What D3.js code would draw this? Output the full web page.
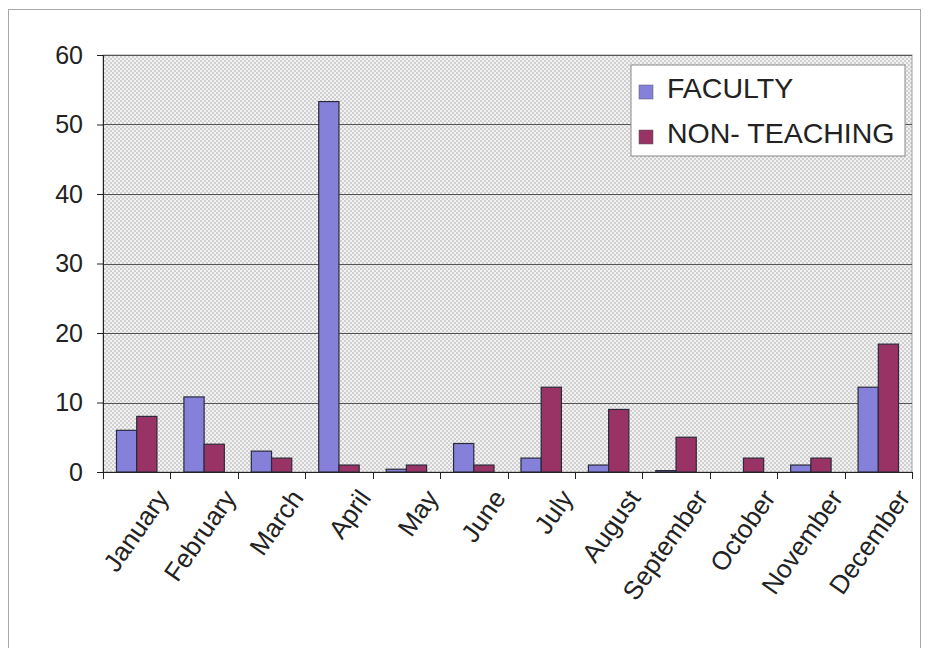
<!DOCTYPE html>
<html>
<head>
<meta charset="utf-8">
<script src="https://cdn.jsdelivr.net/npm/d3@7"></script>
<style>
  html, body { margin: 0; padding: 0; background: #fff; }
  svg { display: block; font-family: Arial, "Liberation Sans", sans-serif; }
</style>
</head>
<body>
<svg id="chart" width="925" height="648"></svg>
<script>
const months = ["January","February","March","April","May","June","July","August","September","October","November","December"];
const seriesNames = ["FACULTY", "NON- TEACHING"];
const faculty = [6, 10.8, 3, 53.3, 0.4, 4.1, 2, 1, 0.2, 0, 1, 12.2];
const nonTeaching = [8, 4, 2, 1, 1, 1, 12.2, 9, 5, 2, 2, 18.4];
const yTicks = [0, 10, 20, 30, 40, 50, 60];
const colors = ["#8580da", "#993366"];

const svg = d3.select("#chart");
const plot = { left: 103, right: 912, top: 55, bottom: 472 };

// outer frame
svg.append("rect").attr("x", 8.5).attr("y", 9.5).attr("width", 912).attr("height", 660)
  .attr("fill", "none").attr("stroke", "#a8a8a8").attr("stroke-width", 1);

// pattern background
const defs = svg.append("defs");
const pat = defs.append("pattern").attr("id", "grid").attr("width", 4).attr("height", 4)
  .attr("patternUnits", "userSpaceOnUse");
pat.append("rect").attr("width", 4).attr("height", 4).attr("fill", "#f2f2f2");
pat.append("rect").attr("width", 2).attr("height", 2).attr("fill", "#d0d0d0");
pat.append("rect").attr("x", 2).attr("y", 2).attr("width", 2).attr("height", 2).attr("fill", "#d0d0d0");

const x = d3.scaleBand().domain(months).range([plot.left, plot.right]).padding(0);
const sub = d3.scaleBand().domain(seriesNames).range([0, x.bandwidth()]).paddingInner(0).paddingOuter(0.667);
const y = d3.scaleLinear().domain([0, 60]).range([plot.bottom, plot.top]);

svg.append("rect").attr("x", plot.left).attr("y", plot.top)
  .attr("width", plot.right - plot.left).attr("height", plot.bottom - plot.top)
  .attr("fill", "url(#grid)").attr("stroke", "#a0a0a0");

// gridlines
svg.append("g").selectAll("line").data(yTicks.filter(d => d > 0)).join("line")
  .attr("x1", plot.left).attr("x2", plot.right)
  .attr("y1", d => Math.round(y(d)) + 0.5).attr("y2", d => Math.round(y(d)) + 0.5)
  .attr("stroke", "#555").attr("stroke-width", 1);

// bars
const rows = months.map((m, i) => ({ month: m, values: [
  { key: seriesNames[0], v: faculty[i] },
  { key: seriesNames[1], v: nonTeaching[i] } ] }));

const groups = svg.append("g").selectAll("g").data(rows).join("g")
  .attr("transform", d => `translate(${x(d.month)},0)`);
groups.selectAll("rect").data(d => d.values).join("rect")
  .attr("x", d => sub(d.key))
  .attr("y", d => y(d.v))
  .attr("width", sub.bandwidth())
  .attr("height", d => y(0) - y(d.v))
  .attr("fill", (d, i) => colors[i])
  .attr("stroke", "#2a2a3a").attr("stroke-width", 1.2);

// y axis
const yAxis = d3.axisLeft(y).tickValues(yTicks).tickSize(6).tickPadding(14).tickFormat(d3.format("d"));
const yg = svg.append("g").attr("transform", `translate(${plot.left},0)`).call(yAxis);
yg.select(".domain").attr("stroke", "#222");
yg.selectAll(".tick line").attr("stroke", "#222");
yg.selectAll("text").attr("font-size", 25).attr("fill", "#222")
  .attr("font-family", "Arial, 'Liberation Sans', sans-serif");

// x axis
const xAxis = d3.axisBottom(x).tickSize(0).tickFormat("");
const xg = svg.append("g").attr("transform", `translate(0,${plot.bottom})`).call(xAxis);
xg.select(".domain").attr("stroke", "#222");
xg.selectAll(".tick").remove();
xg.selectAll(".btick").data(months.concat(["__end"])).join("line")
  .attr("class", "btick")
  .attr("x1", (d, i) => Math.round(plot.left + i * x.step()) + 0.5)
  .attr("x2", (d, i) => Math.round(plot.left + i * x.step()) + 0.5)
  .attr("y1", 0).attr("y2", 7).attr("stroke", "#222");

svg.append("g").selectAll("text").data(months).join("text")
  .attr("transform", d => `translate(${x(d) + x.bandwidth() / 2 + 33},${plot.bottom + 26}) rotate(-55)`)
  .attr("text-anchor", "end")
  .attr("font-size", 26)
  .attr("fill", "#222")
  .text(d => d);

// legend
const lg = svg.append("g").attr("transform", "translate(631,65)");
lg.append("rect").attr("width", 274).attr("height", 91).attr("fill", "#fff").attr("stroke", "#8a8a8a");
seriesNames.forEach((s, i) => {
  lg.append("rect").attr("x", 8).attr("y", 20 + i * 45).attr("width", 14).attr("height", 14)
    .attr("fill", colors[i]).attr("stroke", "#555").attr("stroke-width", 0.5);
  lg.append("text").attr("x", 36).attr("y", 33 + i * 45).attr("font-size", 28.5).attr("fill", "#222").text(s);
});
</script>
</body>
</html>
